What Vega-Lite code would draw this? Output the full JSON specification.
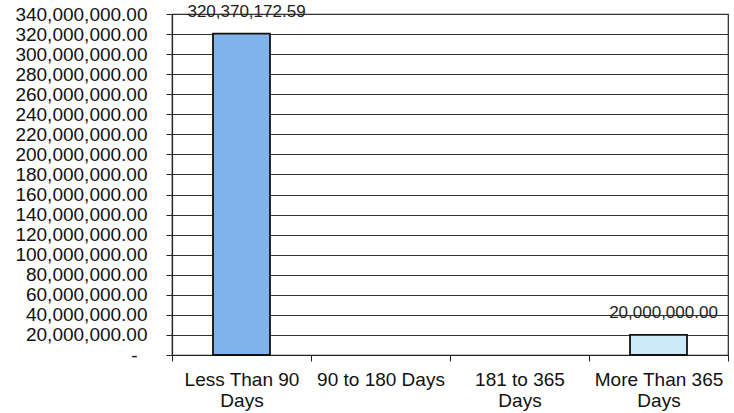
{
  "$schema": "https://vega.github.io/schema/vega-lite/v6.json",
  "width": 556,
  "height": 341,
  "autosize": {"type": "none"},
  "padding": {"left": 172, "top": 14, "right": 6, "bottom": 58},
  "background": "white",
  "config": {
    "view": {"stroke": "#222", "strokeWidth": 1.2},
    "font": "Liberation Sans"
  },
  "data": {
    "values": [
      {"bucket": "Less Than 90 Days", "amount": 320370172.59, "tone": "a"},
      {"bucket": "90 to 180 Days", "amount": 0, "tone": "a"},
      {"bucket": "181 to 365 Days", "amount": 0, "tone": "a"},
      {"bucket": "More Than 365 Days", "amount": 20000000.00, "tone": "b"}
    ]
  },
  "encoding": {
    "x": {
      "field": "bucket",
      "type": "nominal",
      "sort": null,
      "scale": {
        "domain": ["Less Than 90 Days", "90 to 180 Days", "181 to 365 Days", "More Than 365 Days"],
        "paddingInner": 0,
        "paddingOuter": 0
      },
      "axis": {
        "title": null,
        "labelAngle": 0,
        "tickBand": "extent",
        "domainColor": "#222",
        "domainWidth": 1.2,
        "tickColor": "#222",
        "tickSize": 6,
        "labelColor": "#111",
        "labelFontSize": 19,
        "labelPadding": 9,
        "labelLineHeight": 21,
        "labelBaseline": "top",
        "grid": false,
        "labelExpr": "!isString(datum.value) ? '' : datum.value == '90 to 180 Days' ? datum.value : [replace(datum.value, ' Days', ''), 'Days']"
      }
    },
    "y": {
      "field": "amount",
      "type": "quantitative",
      "scale": {"domain": [0, 340000000], "nice": false},
      "axis": {
        "title": null,
        "tickCount": 17,
        "grid": true,
        "gridColor": "#333",
        "gridWidth": 1,
        "gridOpacity": 1,
        "domainColor": "#222",
        "domainWidth": 1.2,
        "tickColor": "#222",
        "tickSize": 6,
        "labelColor": "#111",
        "labelFontSize": 19,
        "labelPadding": {"condition": {"test": "datum.value == 0", "value": 29}, "value": 19},
        "labelExpr": "datum.value == 0 ? '-' : format(datum.value, ',.2f')"
      }
    }
  },
  "layer": [
    {
      "transform": [{"filter": "datum.amount > 0"}],
      "mark": {"type": "bar", "width": {"band": 0.41}, "stroke": "#111", "strokeWidth": 1.8},
      "encoding": {
        "color": {
          "field": "tone",
          "type": "nominal",
          "scale": {"domain": ["a", "b"], "range": ["#7fb3ea", "#cde9fa"]},
          "legend": null
        }
      }
    },
    {
      "transform": [{"filter": "datum.amount > 0"}],
      "mark": {"type": "text", "baseline": "middle", "dy": -22, "dx": 5, "fontSize": 17, "color": "#222"},
      "encoding": {
        "text": {"field": "amount", "type": "quantitative", "format": ",.2f"}
      }
    }
  ]
}
